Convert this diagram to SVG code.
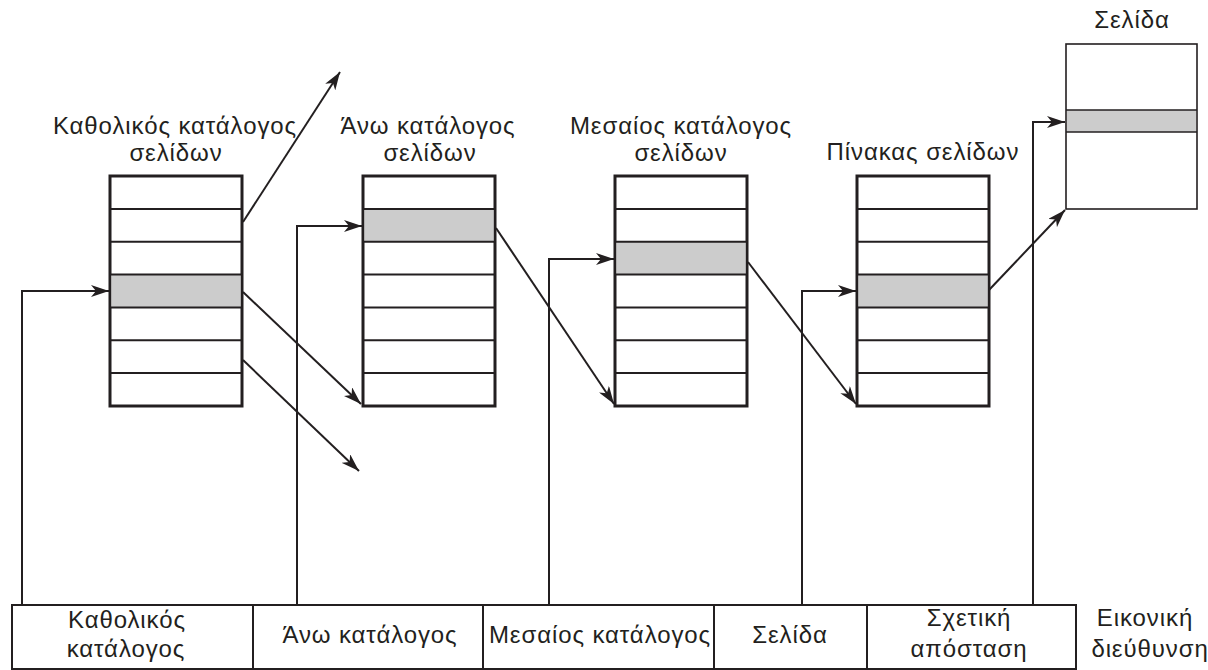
<svg xmlns="http://www.w3.org/2000/svg" width="1208" height="670" viewBox="0 0 1208 670">
<style>
text{font-family:"Liberation Sans",Arial,sans-serif;font-size:24px;letter-spacing:0.9px;fill:#231f20;text-anchor:middle}
.outer{fill:#fff;stroke:#231f20;stroke-width:3}
.row{stroke:#231f20;stroke-width:2}
.hl{fill:#cccccc;stroke:none}
.page{fill:#fff;stroke:#231f20;stroke-width:1.6}
.bar{fill:#fff;stroke:#231f20;stroke-width:2}
.conn{fill:none;stroke:#231f20;stroke-width:2;marker-end:url(#ah)}
</style>
<defs>
<marker id="ah" viewBox="0 0 18 12" refX="18" refY="6" markerWidth="18" markerHeight="12" markerUnits="userSpaceOnUse" orient="auto">
<path d="M0,0 L18,6 L0,12 L5,6 Z" fill="#231f20"/>
</marker>
<g id="rows">
<line class="row" x1="0" y1="32.9" x2="132" y2="32.9"/>
<line class="row" x1="0" y1="65.7" x2="132" y2="65.7"/>
<line class="row" x1="0" y1="98.6" x2="132" y2="98.6"/>
<line class="row" x1="0" y1="131.4" x2="132" y2="131.4"/>
<line class="row" x1="0" y1="164.3" x2="132" y2="164.3"/>
<line class="row" x1="0" y1="197.1" x2="132" y2="197.1"/>
</g>
</defs>
<rect width="1208" height="670" fill="#fff"/>

<g id="global-dir">
<text x="175" y="134">Καθολικός κατάλογος</text>
<text x="176" y="161">σελίδων</text>
<g transform="translate(110,176)">
<rect class="outer" x="0" y="0" width="132" height="230"/>
<rect class="hl" x="1.5" y="98.6" width="129" height="32.8"/>
<use href="#rows"/>
</g>
</g>

<g id="upper-dir">
<text x="428" y="134">Άνω κατάλογος</text>
<text x="430" y="161">σελίδων</text>
<g transform="translate(363,176)">
<rect class="outer" x="0" y="0" width="132" height="230"/>
<rect class="hl" x="1.5" y="32.9" width="129" height="32.8"/>
<use href="#rows"/>
</g>
</g>

<g id="middle-dir">
<text x="681" y="134">Μεσαίος κατάλογος</text>
<text x="681" y="161">σελίδων</text>
<g transform="translate(615,176)">
<rect class="outer" x="0" y="0" width="132" height="230"/>
<rect class="hl" x="1.5" y="65.7" width="129" height="32.9"/>
<use href="#rows"/>
</g>
</g>

<g id="page-table">
<text x="923" y="160">Πίνακας σελίδων</text>
<g transform="translate(857,176)">
<rect class="outer" x="0" y="0" width="132" height="230"/>
<rect class="hl" x="1.5" y="98.6" width="129" height="32.8"/>
<use href="#rows"/>
</g>
</g>

<g id="page">
<text x="1132" y="28">Σελίδα</text>
<rect class="page" x="1066" y="44" width="131" height="165"/>
<rect class="hl" x="1067" y="110" width="129" height="22"/>
<line class="page" x1="1066" y1="110" x2="1197" y2="110"/>
<line class="page" x1="1066" y1="132" x2="1197" y2="132"/>
</g>

<g id="virtual-address">
<rect class="bar" x="12" y="605" width="1064" height="64"/>
<line class="bar" x1="253" y1="605" x2="253" y2="669"/>
<line class="bar" x1="483" y1="605" x2="483" y2="669"/>
<line class="bar" x1="714" y1="605" x2="714" y2="669"/>
<line class="bar" x1="867" y1="605" x2="867" y2="669"/>
<text x="127" y="628">Καθολικός</text>
<text x="126" y="657">κατάλογος</text>
<text x="370" y="643">Άνω κατάλογος</text>
<text x="600" y="643">Μεσαίος κατάλογος</text>
<text x="790" y="643">Σελίδα</text>
<text x="969" y="626">Σχετική</text>
<text x="969" y="657">απόσταση</text>
<text x="1145" y="626">Εικονική</text>
<text x="1150" y="657">διεύθυνση</text>
</g>

<g id="connectors">
<path class="conn" d="M22,605 V291 H109"/>
<path class="conn" d="M297,605 V226 H362"/>
<path class="conn" d="M549,605 V259 H614"/>
<path class="conn" d="M802,605 V291 H856"/>
<path class="conn" d="M1033,605 V122 H1065"/>
<path class="conn" d="M243,222 L340,72"/>
<path class="conn" d="M243,292 L361,404"/>
<path class="conn" d="M243,360 L359,471"/>
<path class="conn" d="M496,228 L614,404"/>
<path class="conn" d="M748,262 L856,404"/>
<path class="conn" d="M989,290 L1065,210"/>
</g>
</svg>
